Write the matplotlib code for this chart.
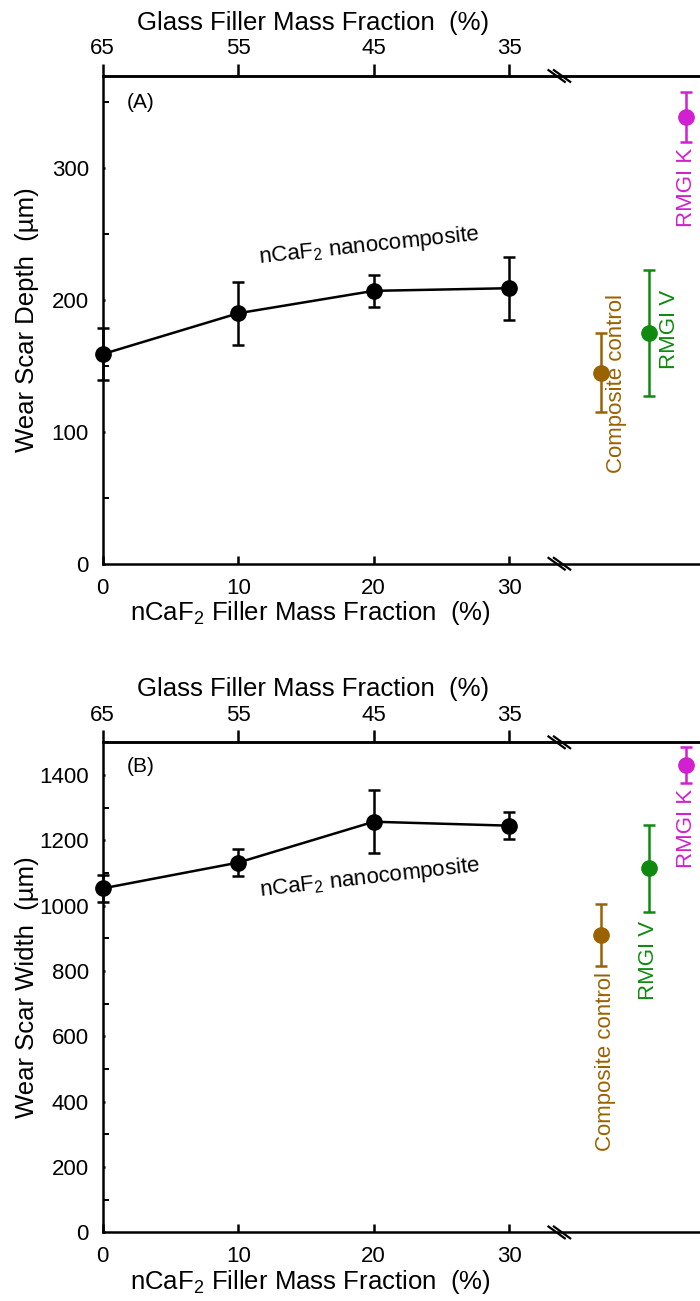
import matplotlib

matplotlib.use("Agg")

import numpy as np
import matplotlib.pyplot as plt
import matplotlib.transforms as mtransforms
from matplotlib.ticker import MultipleLocator

plt.rcParams["font.family"] = ["Liberation Sans", "DejaVu Sans"]
plt.rcParams["mathtext.fontset"] = "custom"
plt.rcParams["mathtext.rm"] = "Liberation Sans"
plt.rcParams["mathtext.it"] = "Liberation Sans:italic"
plt.rcParams["mathtext.bf"] = "Liberation Sans:bold"

# =========================
# Data: nCaF2 nanocomposite (mean, SD)
# =========================
ncaf2_frac = [0, 10, 20, 30]
glass_ticks = [65, 55, 45, 35]

depth_mean = [159, 190, 207, 209]
depth_sd = [20, 24, 12, 24]

width_mean = [1053, 1132, 1257, 1245]
width_sd = [41, 42, 96, 41]

# Controls, plotted to the right of the axis break
ctrl_names = ["Composite control", "RMGI V", "RMGI K"]
ctrl_x = [36.8, 40.3, 43.05]
ctrl_colors = ["#9a6200", "#0f8a0f", "#d11fd1"]

ctrl_depth_mean = [145, 175, 339]
ctrl_depth_sd = [30, 48, 19]

ctrl_width_mean = [910, 1114, 1431]
ctrl_width_sd = [96, 133, 54]

X_MAX = 44.08
X_BREAK = 33.7
LW = 1.8
TICK_FS = 16
LABEL_FS = 18.5


def draw_panel(ax, mean, sd, cmean, csd, ymax, ystep, tag, tag_y,
               ylabel, note_xy, note_rot, ctrl_text_xy):
    ax.errorbar(ncaf2_frac, mean, yerr=sd, color="k", lw=LW, marker="o",
                ms=11, capsize=4.5, capthick=1.8, elinewidth=1.8,
                clip_on=False, zorder=3)

    for x, m, s, c in zip(ctrl_x, cmean, csd, ctrl_colors):
        ax.errorbar([x], [m], yerr=[s], fmt="o", color=c, ms=11,
                    capsize=4.5, capthick=1.8, elinewidth=1.8,
                    clip_on=False, zorder=3)

    for name, c, (tx, ty) in zip(ctrl_names, ctrl_colors, ctrl_text_xy):
        ax.text(tx, ty, name, rotation=90, ha="center", va="center",
                color=c, fontsize=16)

    ax.text(note_xy[0], note_xy[1], r"nCaF$_2$ nanocomposite",
            rotation=note_rot, rotation_mode="anchor",
            ha="center", va="center", fontsize=16)
    ax.text(2.8, tag_y, tag, ha="center", va="center", fontsize=15)

    ax.set_xlim(0, X_MAX)
    ax.set_ylim(0, ymax)
    ax.set_xticks(ncaf2_frac)
    ax.set_yticks(np.arange(0, ymax, ystep))
    ax.yaxis.set_minor_locator(MultipleLocator(ystep / 2))

    ax.tick_params(axis="x", direction="in", length=6, width=LW, pad=10,
                   labelsize=TICK_FS)
    ax.tick_params(axis="y", which="major", direction="in", length=1.5,
                   width=LW, pad=10, labelsize=TICK_FS)
    ax.tick_params(axis="y", which="minor", direction="in", length=4,
                   width=1.4)

    for side in ("left", "bottom", "top"):
        ax.spines[side].set_linewidth(LW)
    ax.spines["right"].set_visible(False)

    sec = ax.secondary_xaxis("top", functions=(lambda v: 65 - v,
                                               lambda v: 65 - v))
    sec.set_xticks(glass_ticks)
    sec.tick_params(direction="out", length=8.5, width=LW, pad=3.5,
                    labelsize=TICK_FS)
    sec.spines["top"].set_linewidth(LW)

    ax.set_ylabel(ylabel, fontsize=LABEL_FS)
    ax.yaxis.set_label_coords(-0.106, 0.5)
    ax.set_xlabel(r"nCaF$_2$ Filler Mass Fraction  (%)", fontsize=LABEL_FS)
    ax.xaxis.set_label_coords(0.347, -0.072)
    ax.text(0.352, 1.108, "Glass Filler Mass Fraction  (%)",
            transform=ax.transAxes, ha="center", va="center",
            fontsize=LABEL_FS)

    # "\\" break marks on the top and bottom spines
    trans = mtransforms.blended_transform_factory(ax.transData, ax.transAxes)
    for yb in (0, 1):
        for off in (-0.2, 0.2):
            ax.plot([X_BREAK + off - 0.6, X_BREAK + off + 0.6],
                    [yb + 0.012, yb - 0.012], transform=trans,
                    color="k", lw=1.6, clip_on=False, zorder=4)


fig = plt.figure(figsize=(7, 13.01), dpi=100)
ax_a = fig.add_axes([0.1467, 0.5667, 0.8533, 0.3749])
ax_b = fig.add_axes([0.1467, 0.0527, 0.8533, 0.3767])

draw_panel(ax_a, depth_mean, depth_sd, ctrl_depth_mean, ctrl_depth_sd,
           370, 100, "(A)", 350, "Wear Scar Depth  (\u00b5m)",
           (19.65, 241), 6,
           [(37.93, 136.6), (41.8, 177.4), (43.1, 285.5)])

draw_panel(ax_b, width_mean, width_sd, ctrl_width_mean, ctrl_width_sd,
           1500, 200, "(B)", 1425, "Wear Scar Width  (\u00b5m)",
           (19.7, 1085), 6.5,
           [(37.07, 523), (40.25, 832), (43.1, 1238)])

fig.savefig("out.png", dpi=100)
plt.close(fig)
